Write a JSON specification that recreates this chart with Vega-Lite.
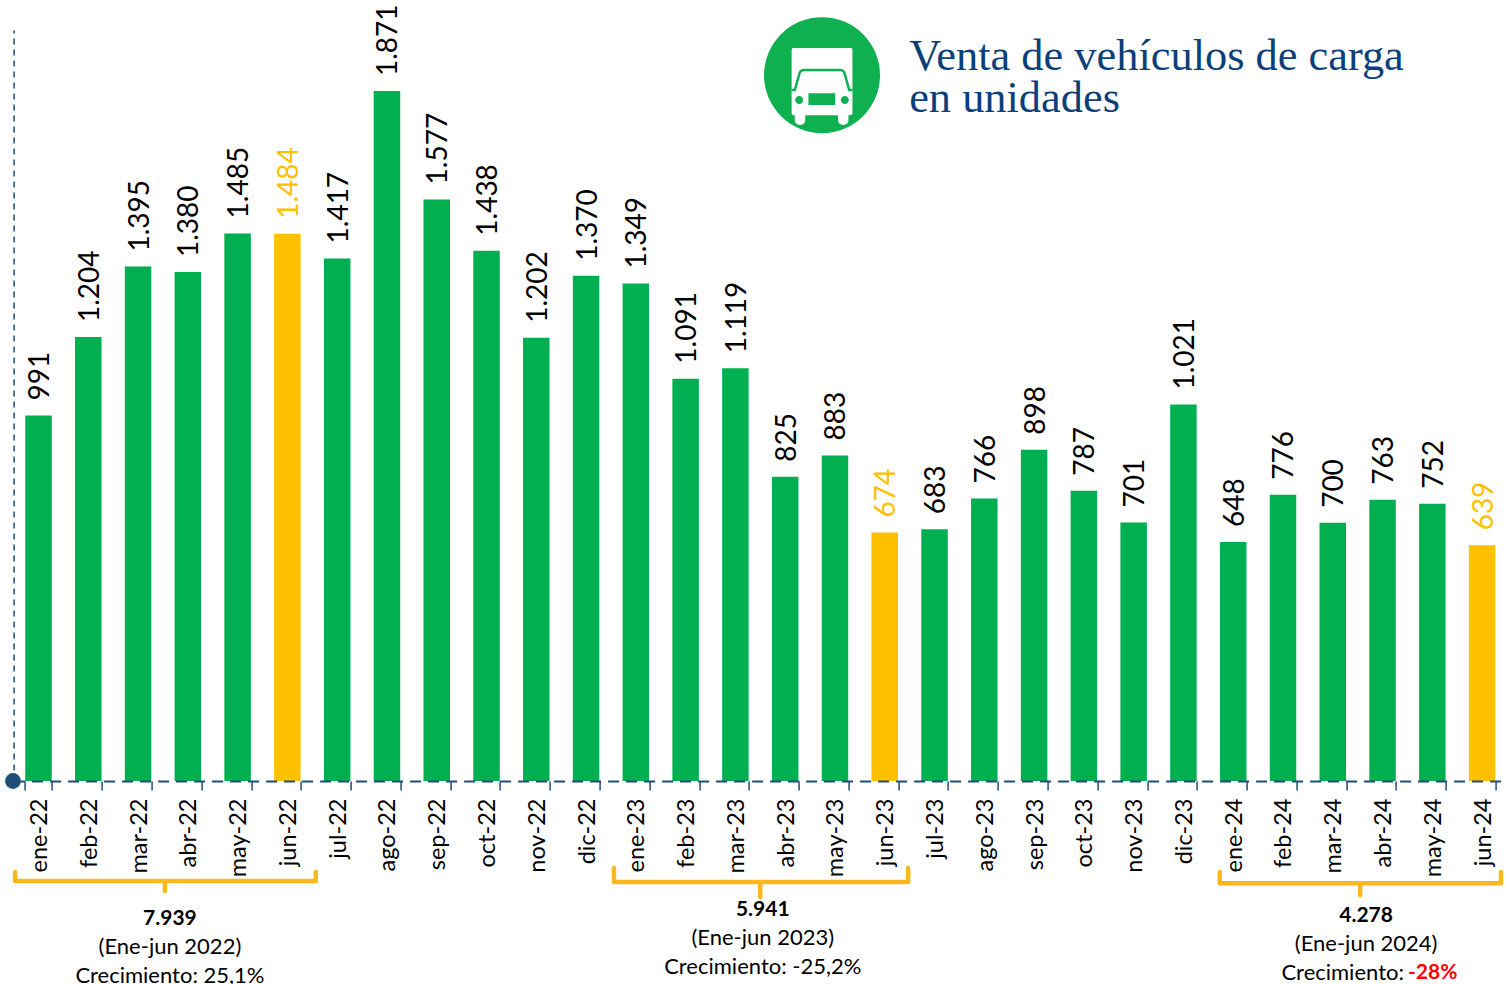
{"$schema":"https://vega.github.io/schema/vega-lite/v6.json","width":1493.4,"height":751,"autosize":"none","padding":{"left":13.6,"top":30,"right":0,"bottom":203},"background":"white","config":{"view":{"stroke":null},"font":"Lato"},"datasets":{"ventas":[{"mes":"ene-22","ventas":991,"etiqueta":"991","tipo":"otro"},{"mes":"feb-22","ventas":1204,"etiqueta":"1.204","tipo":"otro"},{"mes":"mar-22","ventas":1395,"etiqueta":"1.395","tipo":"otro"},{"mes":"abr-22","ventas":1380,"etiqueta":"1.380","tipo":"otro"},{"mes":"may-22","ventas":1485,"etiqueta":"1.485","tipo":"otro"},{"mes":"jun-22","ventas":1484,"etiqueta":"1.484","tipo":"jun"},{"mes":"jul-22","ventas":1417,"etiqueta":"1.417","tipo":"otro"},{"mes":"ago-22","ventas":1871,"etiqueta":"1.871","tipo":"otro"},{"mes":"sep-22","ventas":1577,"etiqueta":"1.577","tipo":"otro"},{"mes":"oct-22","ventas":1438,"etiqueta":"1.438","tipo":"otro"},{"mes":"nov-22","ventas":1202,"etiqueta":"1.202","tipo":"otro"},{"mes":"dic-22","ventas":1370,"etiqueta":"1.370","tipo":"otro"},{"mes":"ene-23","ventas":1349,"etiqueta":"1.349","tipo":"otro"},{"mes":"feb-23","ventas":1091,"etiqueta":"1.091","tipo":"otro"},{"mes":"mar-23","ventas":1119,"etiqueta":"1.119","tipo":"otro"},{"mes":"abr-23","ventas":825,"etiqueta":"825","tipo":"otro"},{"mes":"may-23","ventas":883,"etiqueta":"883","tipo":"otro"},{"mes":"jun-23","ventas":674,"etiqueta":"674","tipo":"jun"},{"mes":"jul-23","ventas":683,"etiqueta":"683","tipo":"otro"},{"mes":"ago-23","ventas":766,"etiqueta":"766","tipo":"otro"},{"mes":"sep-23","ventas":898,"etiqueta":"898","tipo":"otro"},{"mes":"oct-23","ventas":787,"etiqueta":"787","tipo":"otro"},{"mes":"nov-23","ventas":701,"etiqueta":"701","tipo":"otro"},{"mes":"dic-23","ventas":1021,"etiqueta":"1.021","tipo":"otro"},{"mes":"ene-24","ventas":648,"etiqueta":"648","tipo":"otro"},{"mes":"feb-24","ventas":776,"etiqueta":"776","tipo":"otro"},{"mes":"mar-24","ventas":700,"etiqueta":"700","tipo":"otro"},{"mes":"abr-24","ventas":763,"etiqueta":"763","tipo":"otro"},{"mes":"may-24","ventas":752,"etiqueta":"752","tipo":"otro"},{"mes":"jun-24","ventas":639,"etiqueta":"639","tipo":"jun"}],"llaves":[{"g":"a","o":1,"i":0.03,"y":-247},{"g":"a","o":2,"i":0.03,"y":-271},{"g":"a","o":3,"i":3.04,"y":-271},{"g":"a","o":4,"i":3.04,"y":-298},{"g":"a","o":5,"i":3.04,"y":-271},{"g":"a","o":6,"i":6.07,"y":-271},{"g":"a","o":7,"i":6.07,"y":-247},{"g":"b","o":1,"i":12.06,"y":-236},{"g":"b","o":2,"i":12.06,"y":-274},{"g":"b","o":3,"i":15.0,"y":-274},{"g":"b","o":4,"i":15.0,"y":-315},{"g":"b","o":5,"i":15.0,"y":-274},{"g":"b","o":6,"i":17.97,"y":-274},{"g":"b","o":7,"i":17.97,"y":-236},{"g":"c","o":1,"i":24.23,"y":-247},{"g":"c","o":2,"i":24.23,"y":-277},{"g":"c","o":3,"i":27.05,"y":-277},{"g":"c","o":4,"i":27.05,"y":-309},{"g":"c","o":5,"i":27.05,"y":-277},{"g":"c","o":6,"i":29.88,"y":-277},{"g":"c","o":7,"i":29.88,"y":-247}],"totales":[{"i":3.14,"y":-374,"texto":"7.939"},{"i":15.05,"y":-349,"texto":"5.941"},{"i":27.17,"y":-366,"texto":"4.278"}],"notas":[{"i":3.14,"y":-450,"texto":"(Ene-jun 2022)"},{"i":3.14,"y":-529,"texto":"Crecimiento: 25,1%"},{"i":15.05,"y":-426,"texto":"(Ene-jun 2023)"},{"i":15.05,"y":-505,"texto":"Crecimiento: -25,2%"},{"i":27.17,"y":-442,"texto":"(Ene-jun 2024)"}],"titulo":[{"i":17.99,"y":1928,"texto":"Venta de vehículos de carga"},{"i":17.99,"y":1814,"texto":"en unidades"}],"icono":[{"i":16.24,"y":1914}],"camion":[{"i":16.24,"y":1879}],"origen":[{"i":-0.012,"y":0}]},"layer":[{"data":{"name":"ventas"},"mark":{"type":"bar","width":26.5},"encoding":{"x":{"field":"mes","type":"nominal","sort":null,"title":null,"scale":{"paddingInner":0.458,"paddingOuter":0.229},"axis":{"labelAngle":-90,"labelFontSize":23.5,"labelColor":"#000000","labelPadding":8,"labelOffset":1,"labelOverlap":false,"tickBand":"extent","tickSize":9,"tickColor":"#1f4e79","tickWidth":1.5,"domainColor":"#1f4e79","domainWidth":2,"domainDash":[11,7],"zindex":1,"grid":false}},"y":{"field":"ventas","type":"quantitative","title":null,"scale":{"domain":[0,2036.5],"nice":false},"axis":{"labels":false,"ticks":false,"grid":false,"domain":true,"domainColor":"#1f4e79","domainWidth":1.5,"domainDash":[6,5],"zindex":1}},"color":{"condition":{"test":"datum.tipo === 'jun'","value":"#ffc000"},"value":"#00b050"}}},{"data":{"name":"ventas"},"mark":{"type":"text","angle":270,"align":"left","baseline":"middle","dx":15,"dy":2.5,"fontSize":28},"encoding":{"x":{"field":"mes","type":"nominal","sort":null,"axis":null},"y":{"field":"ventas","type":"quantitative"},"text":{"field":"etiqueta"},"color":{"condition":{"test":"datum.tipo === 'jun'","value":"#ffc000"},"value":"#000000"}}},{"data":{"name":"llaves"},"mark":{"type":"line","stroke":"#fbb81c","strokeWidth":4.5,"strokeJoin":"round","strokeCap":"round"},"encoding":{"x":{"field":"i","type":"quantitative","scale":{"domain":[0,30]},"axis":null},"y":{"field":"y","type":"quantitative"},"detail":{"field":"g"},"order":{"field":"o"}}},{"data":{"name":"totales"},"mark":{"type":"text","fontSize":21,"fontWeight":"bold","baseline":"middle","color":"#000000"},"encoding":{"x":{"field":"i","type":"quantitative","scale":{"domain":[0,30]},"axis":null},"y":{"field":"y","type":"quantitative"},"text":{"field":"texto"}}},{"data":{"name":"notas"},"mark":{"type":"text","fontSize":22,"baseline":"middle","color":"#000000"},"encoding":{"x":{"field":"i","type":"quantitative","scale":{"domain":[0,30]},"axis":null},"y":{"field":"y","type":"quantitative"},"text":{"field":"texto"}}},{"data":{"values":[{"i":27.93,"y":-521,"texto":"Crecimiento:"}]},"mark":{"type":"text","fontSize":22,"baseline":"middle","align":"right","color":"#000000"},"encoding":{"x":{"field":"i","type":"quantitative","scale":{"domain":[0,30]},"axis":null},"y":{"field":"y","type":"quantitative"},"text":{"field":"texto"}}},{"data":{"values":[{"i":28.01,"y":-521,"texto":"-28%"}]},"mark":{"type":"text","fontSize":21,"fontWeight":"bold","baseline":"middle","align":"left","color":"#ff0000"},"encoding":{"x":{"field":"i","type":"quantitative","scale":{"domain":[0,30]},"axis":null},"y":{"field":"y","type":"quantitative"},"text":{"field":"texto"}}},{"data":{"name":"titulo"},"mark":{"type":"text","font":"Liberation Serif","fontSize":44.4,"align":"left","baseline":"alphabetic","color":"#0b3f7a"},"encoding":{"x":{"field":"i","type":"quantitative","scale":{"domain":[0,30]},"axis":null},"y":{"field":"y","type":"quantitative"},"text":{"field":"texto"}}},{"data":{"name":"icono"},"mark":{"type":"point","shape":"circle","filled":true,"size":13456,"color":"#0eb050","opacity":1},"encoding":{"x":{"field":"i","type":"quantitative","scale":{"domain":[0,30]},"axis":null},"y":{"field":"y","type":"quantitative"}}},{"data":{"name":"camion"},"mark":{"type":"point","shape":"M-.72,-1 L.72,-1 Q.76,-1 .76,-.95 L.76,.63 Q.76,.68 .66,.68 L.66,.8 Q.66,.92 .53,.92 Q.4,.92 .4,.8 L.4,.68 L-.42,.68 L-.42,.8 Q-.42,.92 -.55,.92 Q-.68,.92 -.68,.8 L-.68,.68 Q-.76,.68 -.76,.63 L-.76,-.95 Q-.76,-1 -.72,-1 Z","filled":true,"size":6400,"color":"#ffffff","opacity":1,"strokeWidth":0},"encoding":{"x":{"field":"i","type":"quantitative","scale":{"domain":[0,30]},"axis":null},"y":{"field":"y","type":"quantitative"}}},{"data":{"name":"camion"},"mark":{"type":"point","shape":"M-.34,.13 L.33,.13 L.33,.42 L-.34,.42 Z M-.67,.3 a.1,.1 0 1,0 .2,0 a.1,.1 0 1,0 -.2,0 Z M.47,.3 a.1,.1 0 1,0 .2,0 a.1,.1 0 1,0 -.2,0 Z","filled":true,"size":6400,"color":"#0eb050","opacity":1,"strokeWidth":0},"encoding":{"x":{"field":"i","type":"quantitative","scale":{"domain":[0,30]},"axis":null},"y":{"field":"y","type":"quantitative"}}},{"data":{"name":"camion"},"mark":{"type":"point","shape":"M-.76,.05 L-.68,.05 L-.56,-.38 Q-.53,-.45 -.45,-.45 L.45,-.45 Q.53,-.45 .56,-.38 L.68,.05 L.76,.05","filled":false,"size":6400,"color":"#0eb050","opacity":1,"strokeWidth":2.5},"encoding":{"x":{"field":"i","type":"quantitative","scale":{"domain":[0,30]},"axis":null},"y":{"field":"y","type":"quantitative"}}},{"data":{"name":"origen"},"mark":{"type":"point","shape":"circle","filled":true,"size":250,"color":"#1f4e79","opacity":1},"encoding":{"x":{"field":"i","type":"quantitative","scale":{"domain":[0,30]},"axis":null},"y":{"field":"y","type":"quantitative"}}}],"resolve":{"scale":{"x":"independent"},"axis":{"x":"independent"}}}
